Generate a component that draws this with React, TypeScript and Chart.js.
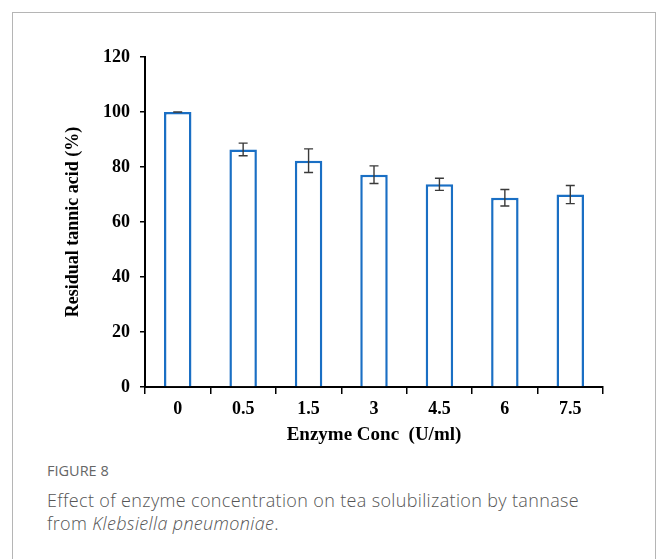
import React, { useEffect, useRef } from "react";
import { Chart, registerables } from "chart.js";

Chart.register(...registerables);

const categories = ["0", "0.5", "1.5", "3", "4.5", "6", "7.5"];
const residualTannic = [100, 86.4, 82.3, 77.2, 73.7, 68.8, 70.0];
const errorValues = [0, 2.3, 4.3, 3.2, 2.2, 3.0, 3.3];
const yTicks = [0, 20, 40, 60, 80, 100, 120];

const errorBarPlugin = {
  id: "errorBars",
  afterDatasetsDraw(chart: any) {
    const ctx = chart.ctx;
    const meta = chart.getDatasetMeta(0);
    const yScale = chart.scales.y;
    ctx.save();
    ctx.strokeStyle = "#3a3a3a";
    ctx.lineWidth = 1.4;
    meta.data.forEach((bar: any, i: number) => {
      const v = residualTannic[i];
      const e = errorValues[i];
      const x = bar.x;
      const yTop = yScale.getPixelForValue(v + e);
      const yBot = yScale.getPixelForValue(v - e);
      const cap = 4.5;
      ctx.beginPath();
      ctx.moveTo(x, yTop);
      ctx.lineTo(x, yBot);
      ctx.moveTo(x - cap, yTop);
      ctx.lineTo(x + cap, yTop);
      ctx.moveTo(x - cap, yBot);
      ctx.lineTo(x + cap, yBot);
      ctx.stroke();
    });
    ctx.restore();
  },
};

export default function App() {
  const canvasRef = useRef<HTMLCanvasElement>(null);

  useEffect(() => {
    if (!canvasRef.current) return;
    const serif = "'Liberation Serif', 'Times New Roman', serif";
    const chart = new Chart(canvasRef.current, {
      type: "bar",
      data: {
        labels: categories,
        datasets: [
          {
            data: residualTannic,
            backgroundColor: "#ffffff",
            borderColor: "#1a6fc4",
            borderWidth: 2.5,
            categoryPercentage: 1,
            barPercentage: 0.42,
          },
        ],
      },
      plugins: [errorBarPlugin],
      options: {
        responsive: false,
        animation: false,
        layout: { padding: { left: 63, right: 55, top: 57, bottom: 0 } },
        plugins: { legend: { display: false }, tooltip: { enabled: false } },
        scales: {
          x: {
            afterFit: (scale: any) => {
              scale.height = 63;
            },
            grid: {
              offset: true,
              drawOnChartArea: false,
              drawTicks: true,
              tickLength: 7,
              color: "#000",
              lineWidth: 1.5,
            },
            border: { display: true, color: "#000", width: 2 },
            ticks: {
              color: "#000",
              padding: 5,
              font: { family: serif, size: 18, weight: "bold" },
            },
            title: {
              display: true,
              text: "Enzyme Conc  (U/ml)",
              color: "#000",
              font: { family: serif, size: 19, weight: "bold" },
              padding: { top: 0, bottom: 4 },
            },
          },
          y: {
            min: 0,
            max: 120,
            afterFit: (scale: any) => {
              scale.width = 82;
            },
            afterBuildTicks: (scale: any) => {
              scale.ticks = yTicks.map((v) => ({ value: v }));
            },
            grid: {
              drawOnChartArea: false,
              drawTicks: true,
              tickLength: 5,
              color: "#000",
              lineWidth: 1.5,
            },
            border: { display: true, color: "#000", width: 2 },
            ticks: {
              color: "#000",
              padding: 10,
              font: { family: serif, size: 18, weight: "bold" },
            },
            title: {
              display: true,
              text: "Residual tannic acid (%)",
              color: "#000",
              font: { family: serif, size: 18, weight: "bold" },
              padding: { top: 0, bottom: 0 },
            },
          },
        },
      },
    });
    return () => chart.destroy();
  }, []);

  const captionFont = "'Open Sans', 'Noto Sans', sans-serif";

  return (
    <div
      style={{
        position: "fixed",
        left: 0,
        top: 0,
        width: 658,
        height: 559,
        background: "#fff",
        overflow: "hidden",
      }}
    >
      <div
        style={{
          position: "absolute",
          left: 12,
          top: 12,
          width: 644,
          height: 600,
          border: "1px solid #b5b5b5",
          boxSizing: "border-box",
        }}
      />
      <canvas
        ref={canvasRef}
        width={658}
        height={450}
        style={{ position: "absolute", left: 0, top: 0, width: 658, height: 450 }}
      />
      <div
        style={{
          position: "absolute",
          left: 47,
          top: 461,
          fontFamily: captionFont,
          fontSize: 14.5,
          color: "#666",
          lineHeight: "20px",
        }}
      >
        FIGURE 8
      </div>
      <div
        style={{
          position: "absolute",
          left: 47,
          top: 489,
          width: 610,
          fontFamily: captionFont,
          fontSize: 18,
          fontWeight: 300,
          letterSpacing: "0.35px",
          color: "#555",
          lineHeight: "23px",
          whiteSpace: "nowrap",
        }}
      >
        Effect of enzyme concentration on tea solubilization by tannase
        <br />
        from <i>Klebsiella pneumoniae</i>.
      </div>
    </div>
  );
}
